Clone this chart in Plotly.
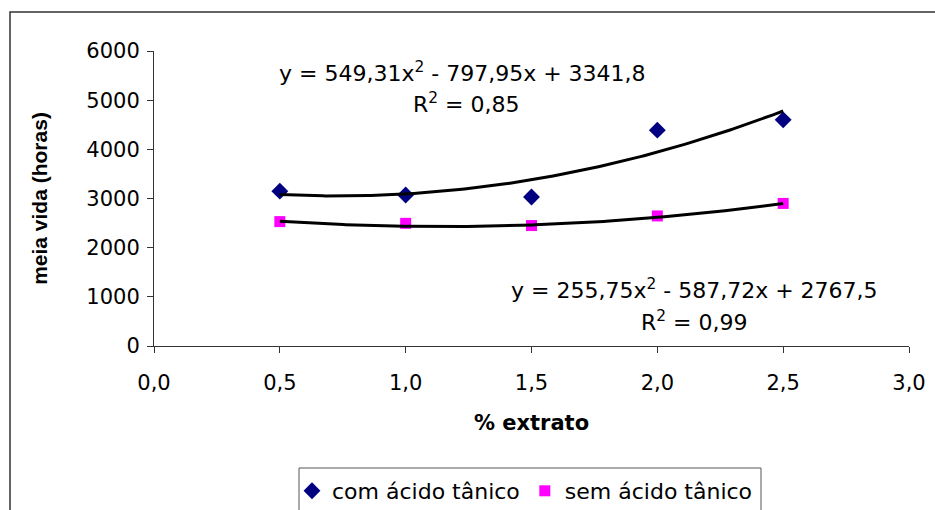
import numpy as np
import plotly.graph_objects as go

# ---------------- data ----------------
x_extrato = [0.5, 1.0, 1.5, 2.0, 2.5]
com_acido_tanico = [3150, 3070, 3030, 4390, 4600]
sem_acido_tanico = [2530, 2495, 2450, 2645, 2900]

# polynomial trendline coefficients shown on the chart (x^2, x, const)
coef_com = [549.31, -797.95, 3341.8]
coef_sem = [255.75, -587.72, 2767.5]
r2_com = "0,85"
r2_sem = "0,99"

x_tickvals = [0.0, 0.5, 1.0, 1.5, 2.0, 2.5, 3.0]
x_ticktext = ["0,0", "0,5", "1,0", "1,5", "2,0", "2,5", "3,0"]
y_tickvals = [0, 1000, 2000, 3000, 4000, 5000, 6000]
y_ticktext = ["0", "1000", "2000", "3000", "4000", "5000", "6000"]

series_names = ["com ácido tânico", "sem ácido tânico"]

# ---------------- layout helpers ----------------
W, H = 935, 510
L, R, T, B = 154, 26, 51, 164
PW, PH = W - L - R, H - T - B


def px(x):
    return (x - L) / PW


def py(y):
    return (H - B - y) / PH


FONT_H = "DejaVu Sans, Liberation Sans, sans-serif"   # horizontally wide text
FONT_V = "Liberation Sans, Arial, sans-serif"

fig = go.Figure()

fig.add_trace(go.Scatter(
    x=x_extrato, y=com_acido_tanico, mode="markers", name=series_names[0],
    marker=dict(symbol="diamond", color="#000080", size=13),
))
fig.add_trace(go.Scatter(
    x=x_extrato, y=sem_acido_tanico, mode="markers", name=series_names[1],
    marker=dict(symbol="square", color="#FF00FF", size=11),
))

xfit = np.linspace(min(x_extrato), max(x_extrato), 200)
for coef in (coef_com, coef_sem):
    fig.add_trace(go.Scatter(
        x=xfit, y=np.polyval(coef, xfit), mode="lines", showlegend=False,
        line=dict(color="black", width=3), hoverinfo="skip",
    ))


def fmt(v):
    s = f"{abs(v):.2f}".rstrip("0").rstrip(".")
    return s.replace(".", ",")


def eq_text(c):
    a, b, k = c
    sb = "-" if b < 0 else "+"
    sk = "-" if k < 0 else "+"
    return f"y = {fmt(a)}x<sup>2</sup> {sb} {fmt(b)}x {sk} {fmt(k)}"


ann_font = dict(family=FONT_H, size=22, color="black")
fig.add_annotation(x=px(462), y=py(72), xref="paper", yref="paper", text=eq_text(coef_com),
                   showarrow=False, font=ann_font, xanchor="center", yanchor="middle")
fig.add_annotation(x=px(466), y=py(103), xref="paper", yref="paper", text=f"R<sup>2</sup> = {r2_com}",
                   showarrow=False, font=ann_font, xanchor="center", yanchor="middle")
fig.add_annotation(x=px(694), y=py(289), xref="paper", yref="paper", text=eq_text(coef_sem),
                   showarrow=False, font=ann_font, xanchor="center", yanchor="middle")
fig.add_annotation(x=px(694), y=py(321), xref="paper", yref="paper", text=f"R<sup>2</sup> = {r2_sem}",
                   showarrow=False, font=ann_font, xanchor="center", yanchor="middle")

# outer chart border (extends past the right/bottom edge as in the source)
fig.add_shape(type="rect", xref="paper", yref="paper",
              x0=px(10), x1=px(990), y0=py(560), y1=py(12),
              line=dict(color="#333333", width=1.5), fillcolor="rgba(0,0,0,0)", layer="below")
# legend box (cut off at the bottom)
fig.add_shape(type="rect", xref="paper", yref="paper",
              x0=px(299), x1=px(761), y0=py(560), y1=py(468),
              line=dict(color="#555555", width=1), fillcolor="rgba(0,0,0,0)", layer="below")

axis_common = dict(
    showline=True, linecolor="#333333", linewidth=1, ticks="outside", ticklen=6,
    tickcolor="#333333", showgrid=False, zeroline=False,
    tickfont=dict(family=FONT_H, size=21, color="black"),
)

fig.update_layout(
    width=W, height=H, margin=dict(l=L, r=R, t=T, b=B, autoexpand=False),
    paper_bgcolor="white", plot_bgcolor="white",
    font=dict(family=FONT_H, size=21, color="black"),
    xaxis=dict(range=[0, 3], tickvals=x_tickvals, ticktext=x_ticktext,
               title=dict(text="<b>% extrato</b>", font=dict(family=FONT_H, size=21), standoff=21),
               ticklabelstandoff=12, **axis_common),
    yaxis=dict(range=[0, 6000], tickvals=y_tickvals, ticktext=y_ticktext,
               title=dict(text="<b>meia vida (horas)</b>", font=dict(family=FONT_V, size=21), standoff=32),
               ticklabelstandoff=3, **axis_common),
    showlegend=True,
    legend=dict(orientation="h", x=px(292), y=py(470), xanchor="left", yanchor="top",
                borderwidth=0, bgcolor="rgba(0,0,0,0)",
                font=dict(family=FONT_H, size=22, color="black")),
)

fig.write_html("out.html")
